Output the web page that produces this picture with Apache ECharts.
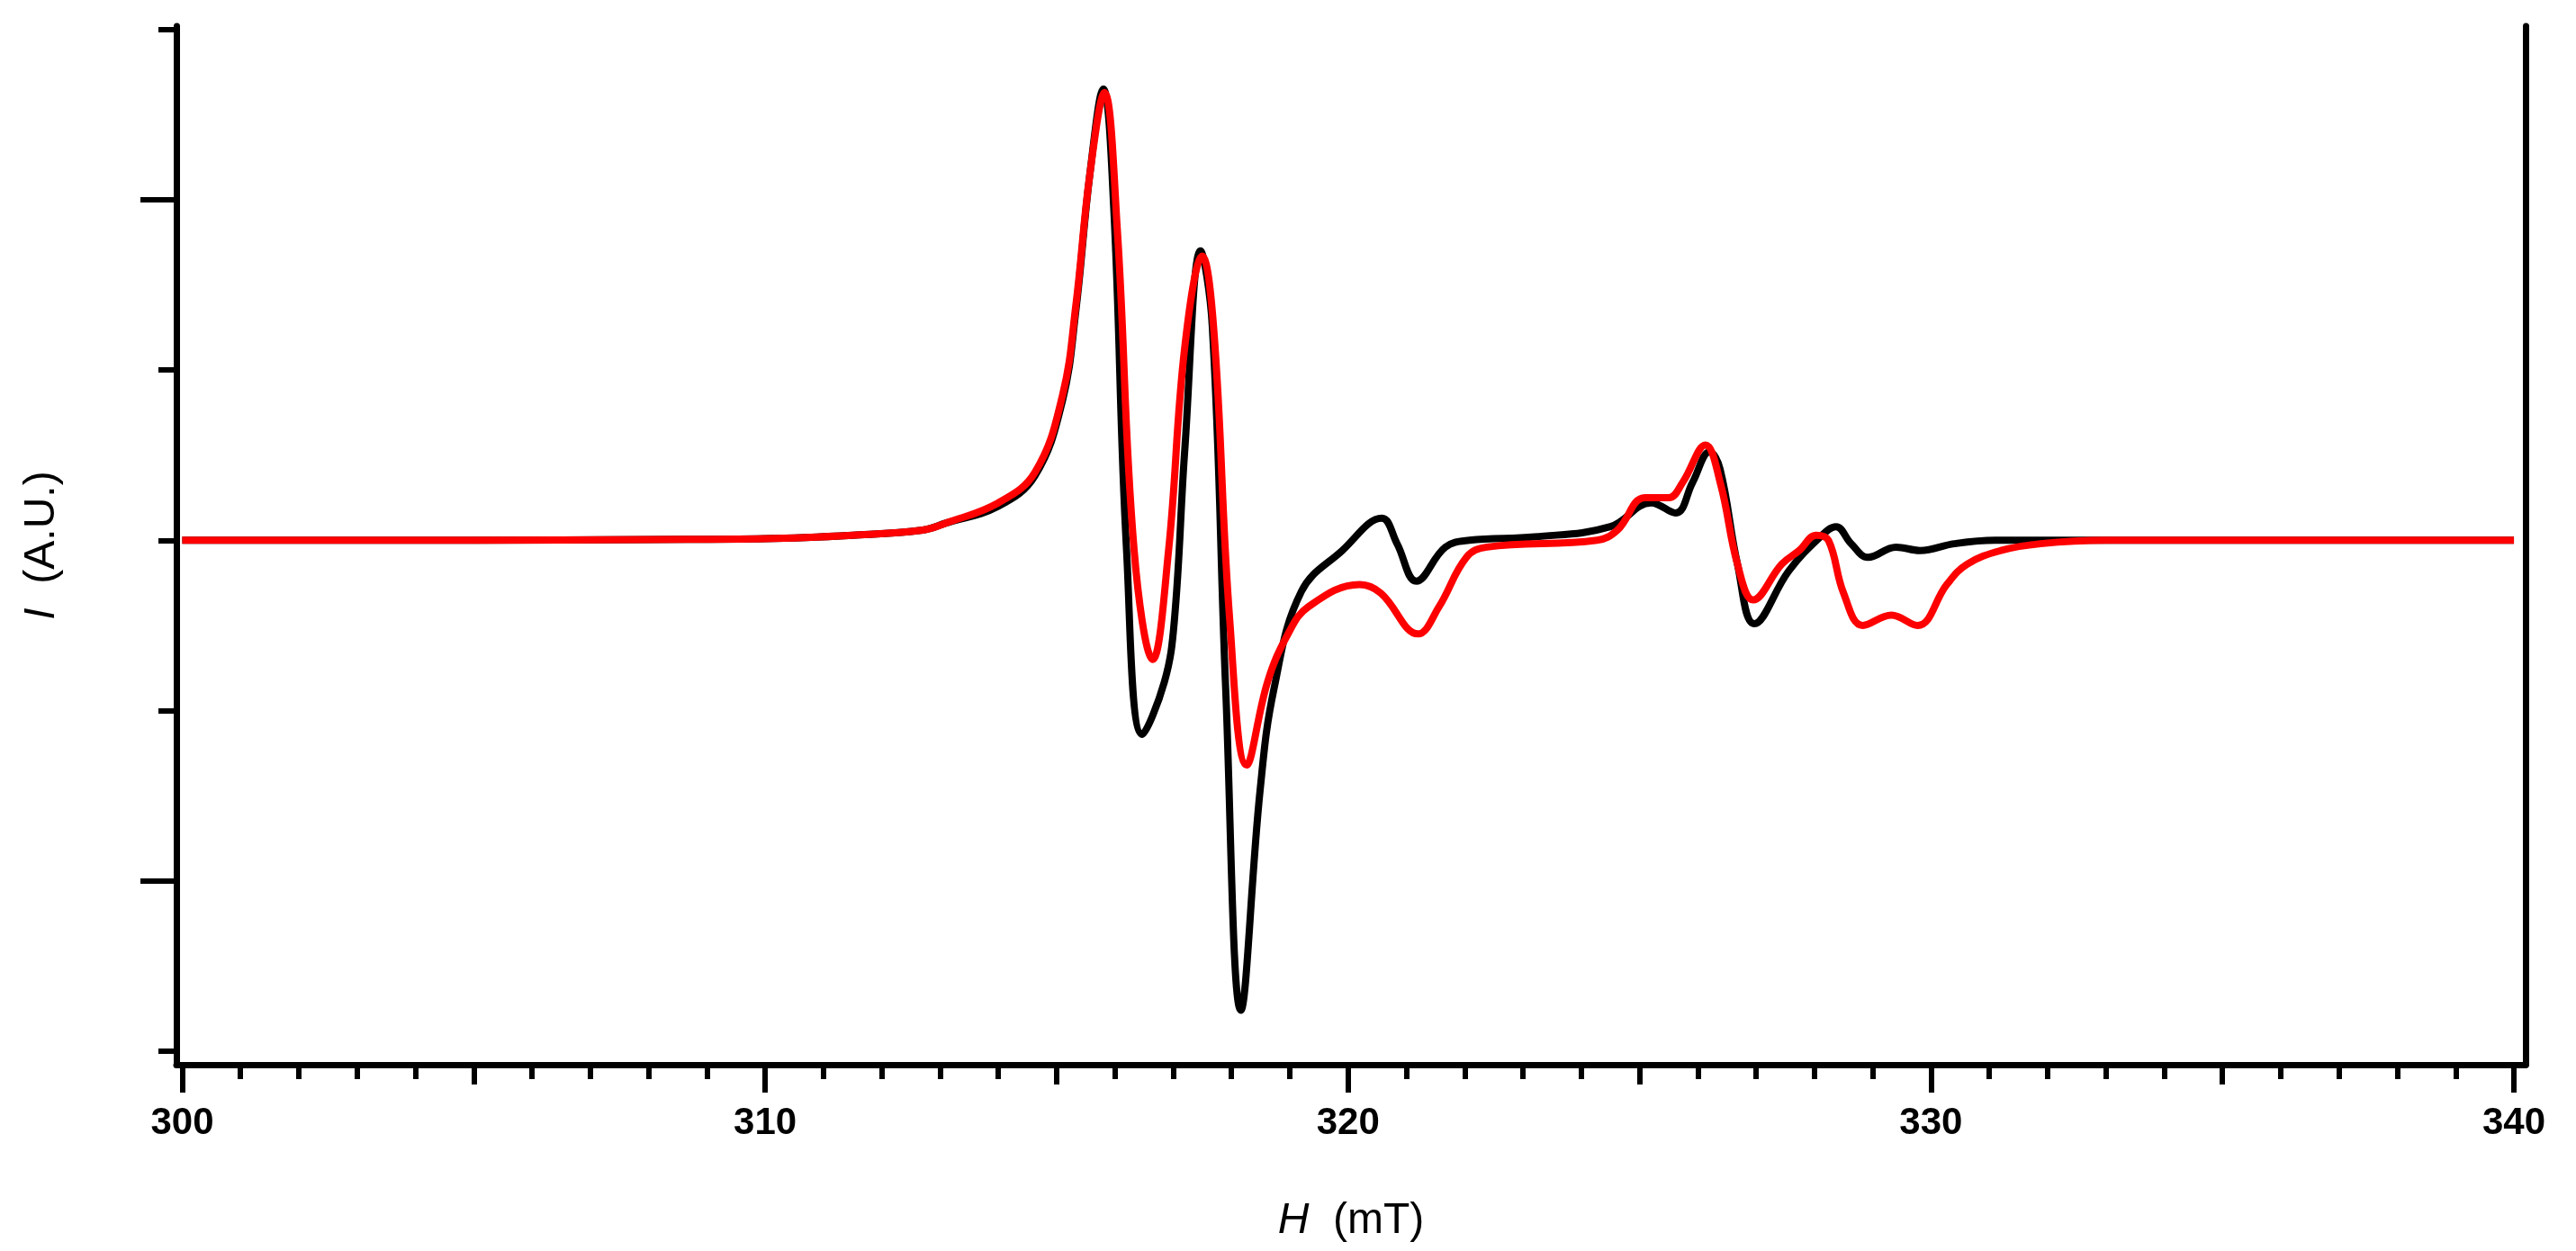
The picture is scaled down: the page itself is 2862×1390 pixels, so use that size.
<!DOCTYPE html>
<html><head><meta charset="utf-8">
<script src="https://cdn.jsdelivr.net/npm/echarts@6/dist/echarts.min.js"></script>
<style>html,body{margin:0;padding:0;background:#fff}#c{width:2862px;height:1390px}</style>
</head><body><div id="c"></div>
<script>
const xMajorTicks = [300, 310, 320, 330, 340];
const xMidTicks = [305, 315, 325, 335];
const xMinorTicks = [301,302,303,304,306,307,308,309,311,312,313,314,316,317,318,319,321,322,323,324,326,327,328,329,331,332,333,334,336,337,338,339];
const yLongTicks = [2, -2];
const yShortTicks = [3, 1, 0, -1, -3];

const blackData = [[300,0],[305,0],[308,0.005],[310,0.01],[311.5,0.03],[312.7,0.06],[313.09,0.1],[314,0.2],[314.63,0.38],[315.1,0.82],[315.33,1.35],[315.57,2.15],[315.8,2.65],[315.98,1.95],[316.2,-0.06],[316.47,-1.14],[316.85,-0.83],[317.02,-0.47],[317.2,0.54],[317.47,1.7],[317.67,1.26],[317.9,-0.87],[318.16,-2.76],[318.49,-1.47],[318.73,-0.87],[319.2,-0.3],[319.9,-0.06],[320.58,0.13],[320.84,-0.02],[321.17,-0.24],[321.67,-0.04],[322.08,0],[323.2,0.02],[324.5,0.08],[325.2,0.22],[325.62,0.16],[325.91,0.34],[326.2,0.52],[326.38,0.42],[326.68,-0.14],[326.97,-0.49],[327.56,-0.18],[328.1,0.02],[328.37,0.08],[328.63,-0.02],[328.92,-0.1],[329.4,-0.04],[329.81,-0.06],[330.4,-0.02],[331.1,0],[335,0],[340,0]];
const redData = [[300,0],[305,0],[308,0.005],[310,0.01],[311.5,0.03],[312.7,0.06],[313.09,0.1],[314,0.22],[314.63,0.4],[315.1,0.85],[315.33,1.38],[315.57,2.15],[315.82,2.63],[316.04,1.83],[316.33,-0.06],[316.65,-0.7],[316.92,-0.06],[317.2,1.14],[317.5,1.67],[317.7,1.22],[317.97,-0.47],[318.26,-1.32],[318.62,-0.83],[318.97,-0.55],[319.32,-0.39],[320.2,-0.26],[320.56,-0.31],[321.2,-0.55],[321.56,-0.39],[322.03,-0.1],[322.38,-0.04],[324.27,0],[324.62,0.06],[325.09,0.25],[325.5,0.25],[325.74,0.34],[326.13,0.56],[326.39,0.33],[326.68,-0.14],[326.95,-0.35],[327.44,-0.14],[327.74,-0.06],[328.03,0.03],[328.24,0],[328.5,-0.31],[328.83,-0.5],[329.32,-0.44],[329.77,-0.5],[330.27,-0.26],[330.62,-0.14],[331.2,-0.06],[331.88,-0.02],[333,0],[340,0]];

const XMIN = 299.9, XMAX = 340.2, YMIN = -3.08, YMAX = 3.02;
const font = 'Liberation Sans';
function xa(vals, len, showLine, labels) {
  return {
    type: 'value', min: XMIN, max: XMAX, position: 'bottom',
    axisLine: {show: showLine, onZero: false, lineStyle: {color: '#000', width: 7}},
    axisTick: {show: true, customValues: vals, length: len, lineStyle: {color: '#000', width: 6}},
    axisLabel: labels ? {show: true, customValues: xMajorTicks, color: '#000', fontFamily: font, fontWeight: 'bold', fontSize: 42, margin: 44} : {show: false},
    splitLine: {show: false},
    name: labels ? '{i|H}  (mT)' : '', nameLocation: 'middle', nameGap: 150,
    nameTextStyle: {color: '#000', fontFamily: font, fontSize: 48, rich: {i: {fontStyle: 'italic', fontFamily: font, fontSize: 48, color: '#000'}}}
  };
}
function ya(vals, len, showLine, pos, name) {
  return {
    type: 'value', min: YMIN, max: YMAX, position: pos,
    axisLine: {show: showLine, onZero: false, lineStyle: {color: '#000', width: 7}},
    axisTick: vals ? {show: true, customValues: vals, length: len, lineStyle: {color: '#000', width: 6}} : {show: false},
    axisLabel: {show: false}, splitLine: {show: false},
    name: name || '', nameLocation: 'middle', nameGap: 125, nameRotate: 90,
    nameTextStyle: {color: '#000', fontFamily: font, fontSize: 48, rich: {i: {fontStyle: 'italic', fontFamily: font, fontSize: 48, color: '#000'}}}
  };
}
const chart = echarts.init(document.getElementById('c'));
chart.setOption({
  animation: false,
  backgroundColor: '#fff',
  grid: {left: 196, right: 56, top: 29, bottom: 207},
  xAxis: [xa(xMajorTicks, 31, true, true), xa(xMidTicks, 22, false, false), xa(xMinorTicks, 16, false, false)],
  yAxis: [ya(yLongTicks, 40, true, 'left', '{i|I}  (A.U.)'), ya(yShortTicks, 20, false, 'left'), ya(null, 0, true, 'right')],
  series: [
    {type: 'line', data: blackData, smooth: 0.4, showSymbol: false, lineStyle: {color: '#000', width: 8}, xAxisIndex: 0, yAxisIndex: 0},
    {type: 'line', data: redData, smooth: 0.4, showSymbol: false, lineStyle: {color: '#ff0000', width: 8}, xAxisIndex: 0, yAxisIndex: 0}
  ]
});
</script></body></html>
